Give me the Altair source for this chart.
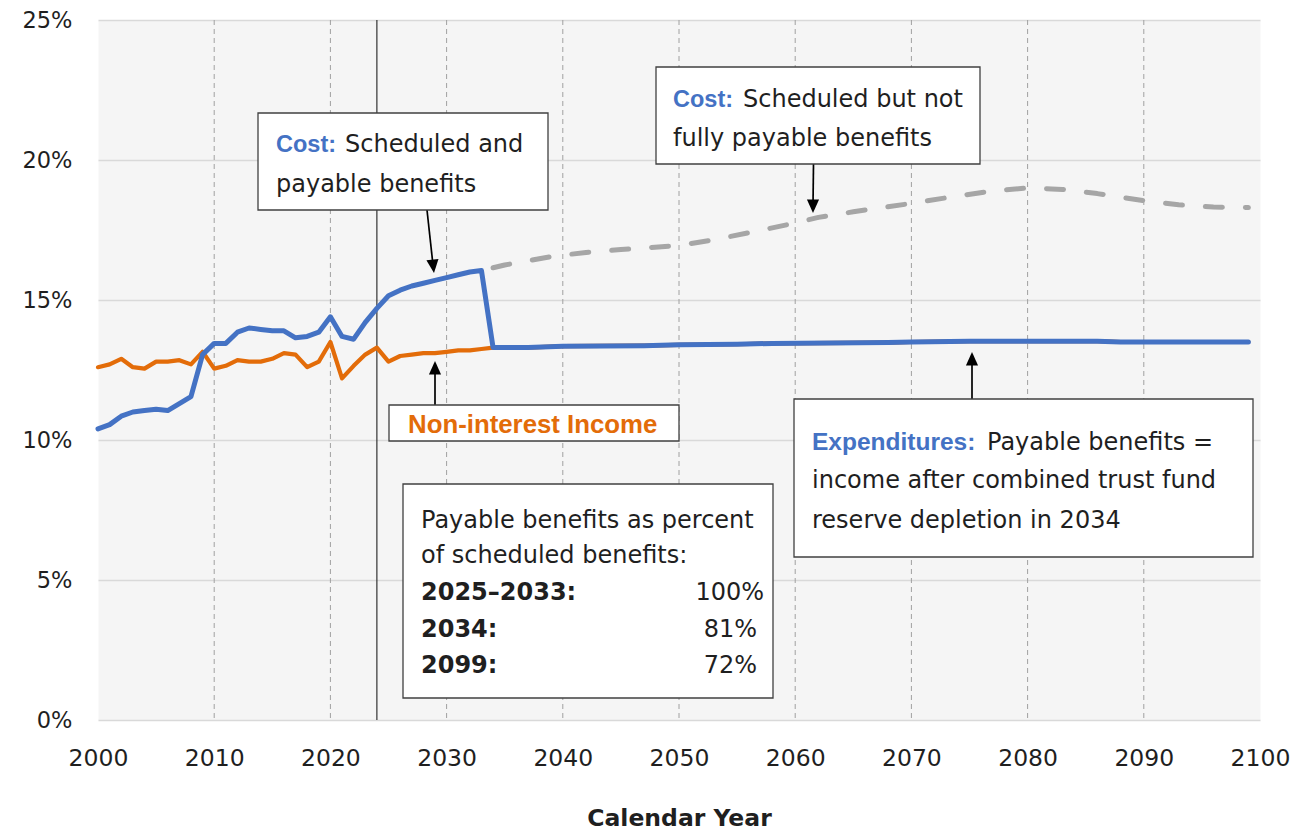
import altair as alt
import pandas as pd

# ---------------- data ----------------
cost_years = list(range(2000, 2034))
cost_vals = [10.4, 10.55, 10.85, 11.0, 11.05, 11.1, 11.05, 11.3, 11.55, 13.05,
             13.45, 13.45, 13.85, 14.0, 13.95, 13.9, 13.9, 13.65, 13.7, 13.85,
             14.4, 13.7, 13.6, 14.2, 14.7, 15.15, 15.35, 15.5, 15.6, 15.7,
             15.8, 15.9, 16.0, 16.05]

income_years = list(range(2000, 2035)) + [2037, 2040, 2047, 2050, 2055, 2058,
                                          2068, 2070, 2075, 2086, 2088, 2099]
income_vals = [12.6, 12.7, 12.9, 12.6, 12.55, 12.8, 12.8, 12.85, 12.7, 13.15,
               12.55, 12.65, 12.85, 12.8, 12.8, 12.9, 13.1, 13.05, 12.6, 12.8,
               13.5, 12.2, 12.65, 13.05, 13.3, 12.8, 13.0, 13.05, 13.1, 13.1,
               13.15, 13.2, 13.2, 13.25, 13.3,
               13.3, 13.35, 13.37, 13.4, 13.42, 13.45,
               13.48, 13.5, 13.53, 13.53, 13.5, 13.5]

sched_years = [2034, 2035, 2039, 2042, 2045, 2050, 2053, 2056, 2060, 2062, 2065,
               2070, 2073, 2077, 2080, 2083, 2086, 2090, 2093, 2096, 2099]
sched_vals = [16.15, 16.25, 16.55, 16.7, 16.8, 16.95, 17.15, 17.4, 17.75, 17.95, 18.15,
              18.45, 18.65, 18.9, 19.0, 18.95, 18.8, 18.55, 18.4, 18.32, 18.3]

x_ticks = list(range(2000, 2101, 10))
y_ticks = [0, 5, 10, 15, 20, 25]
grid_years = list(range(2010, 2091, 10))
valuation_year = [2024]
depletion_year = 2034

# ---------------- tables ----------------
cost_df = pd.DataFrame({"year": cost_years, "pct": cost_vals})
income_df = pd.DataFrame({"year": income_years, "pct": income_vals})
sched_df = pd.DataFrame({"year": sched_years, "pct": sched_vals})
expend_df = pd.concat([cost_df, income_df[income_df["year"] >= depletion_year]],
                      ignore_index=True)
grid_df = pd.DataFrame({"year": grid_years})
val_df = pd.DataFrame({"year": valuation_year})
one = pd.DataFrame({"k": [0]})

# ---------------- styles ----------------
BLUE = "#4472C4"
ORANGE = "#E36C09"
GREY = "#A6A6A6"
TXT = "#1f1f1f"
REG = "DejaVu Sans"
BOLD = "Liberation Sans"

xscale = alt.Scale(domain=[2000, 2100], nice=False, zero=False)
yscale = alt.Scale(domain=[0, 25], nice=False, zero=True)

xaxis = alt.Axis(values=x_ticks, format="d", grid=False, domain=False, ticks=False,
                 labelFont=REG, labelFontSize=23.5, labelColor=TXT, labelPadding=26,
                 labelFlush=False, labelOverlap=False,
                 title="Calendar Year", titleFont=REG, titleFontSize=23.5,
                 titleFontWeight="bold", titleColor=TXT, titlePadding=37)
yaxis = alt.Axis(values=y_ticks, labelExpr="datum.value + '%'", grid=True,
                 gridColor="#D9D9D9", gridWidth=1.6, domain=False, ticks=False,
                 labelFont=REG, labelFontSize=22.5, labelColor=TXT, labelPadding=26,
                 labelFlush=False, labelOverlap=False, title=None)


def X():
    return alt.X("year:Q", scale=xscale, axis=xaxis)


def Y():
    return alt.Y("pct:Q", scale=yscale, axis=yaxis)


layers = []

# vertical dashed gridlines
layers.append(alt.Chart(grid_df).mark_rule(color="#A0A0A0", strokeWidth=1,
                                           strokeDash=[5, 4]).encode(x=X()))
# valuation year line
layers.append(alt.Chart(val_df).mark_rule(color="#333333", strokeWidth=1.2).encode(x=X()))

# series
layers.append(alt.Chart(sched_df).mark_line(color=GREY, strokeWidth=5, strokeDash=[17, 23],
                                            strokeCap="round", strokeJoin="round")
              .encode(x=X(), y=Y()))
layers.append(alt.Chart(income_df).mark_line(color=ORANGE, strokeWidth=4.2,
                                             strokeCap="round", strokeJoin="round")
              .encode(x=X(), y=Y()))
layers.append(alt.Chart(expend_df).mark_line(color=BLUE, strokeWidth=5,
                                             strokeCap="round", strokeJoin="round")
              .encode(x=X(), y=Y()))

# ---------------- annotations (pixel positions within plot area) ----------------
ARROW = "M0,0L-0.9,-2L0.9,-2Z"


def box(x1, y1, x2, y2):
    return alt.Chart(one).mark_rect(fill="white", stroke="#404040", strokeWidth=1.3).encode(
        x=alt.value(x1), x2=alt.value(x2), y=alt.value(y1), y2=alt.value(y2))


def arrow(x1, y1, x2, y2, tx, ty, angle):
    line = alt.Chart(one).mark_rule(color="black", strokeWidth=1.7).encode(
        x=alt.value(x1), x2=alt.value(x2), y=alt.value(y1), y2=alt.value(y2))
    head = alt.Chart(one).mark_point(shape=ARROW, size=182, filled=True, color="black",
                                     opacity=1, strokeWidth=0, angle=angle).encode(
        x=alt.value(tx), y=alt.value(ty))
    return [line, head]


def label(s, px, py, size=24, weight="normal", color=TXT, font=REG, align="left"):
    return alt.Chart(one).mark_text(text=s, font=font, fontSize=size, fontWeight=weight,
                                    color=color, align=align, baseline="alphabetic").encode(
        x=alt.value(px), y=alt.value(py))


# arrows
layers += arrow(329, 190, 335, 245, 336, 253, 353.4)
layers += arrow(715.5, 144, 715, 185, 715, 193, 0)
layers += arrow(337, 385, 337, 348, 337, 341, 180)
layers += arrow(874, 379, 874, 340, 874, 332, 180)

# box 1
layers.append(box(160, 93, 450, 190))
layers.append(label("Cost:", 178, 132, size=23.5, weight="bold", color=BLUE, font=BOLD))
layers.append(label("Scheduled and", 247, 132))
layers.append(label("payable benefits", 178, 172))

# box 2
layers.append(box(558, 47, 882, 144))
layers.append(label("Cost:", 575, 87, size=23.5, weight="bold", color=BLUE, font=BOLD))
layers.append(label("Scheduled but not", 645, 87))
layers.append(label("fully payable benefits", 575, 126))

# box 3
layers.append(box(291, 385, 581, 421))
layers.append(label("Non-interest Income", 310, 413, size=25.8, weight="bold",
                    color=ORANGE, font=BOLD))

# box 4
layers.append(box(696, 379, 1155, 537))
layers.append(label("Expenditures:", 714, 430, size=24.5, weight="bold", color=BLUE, font=BOLD))
layers.append(label("Payable benefits =", 889, 430))
layers.append(label("income after combined trust fund", 714, 468))
layers.append(label("reserve depletion in 2034", 714, 508))

# box 5
layers.append(box(305, 464, 675, 678))
layers.append(label("Payable benefits as percent", 323, 508))
layers.append(label("of scheduled benefits:", 323, 543))
layers.append(label("2025\u20132033:", 323, 580, weight="bold"))
layers.append(label("100%", 666, 580, align="right"))
layers.append(label("2034:", 323, 617, weight="bold"))
layers.append(label("81%", 659, 617, align="right"))
layers.append(label("2099:", 323, 653, weight="bold"))
layers.append(label("72%", 659, 653, align="right"))

chart = alt.layer(*layers).properties(
    width=1162, height=700,
    autosize=alt.AutoSizeParams(type="none"),
    padding={"left": 90, "top": 12, "right": 32, "bottom": 116},
).configure_view(fill="#F5F5F5", stroke="transparent")

chart.save("out.html", embed_options={"renderer": "svg", "actions": False})
